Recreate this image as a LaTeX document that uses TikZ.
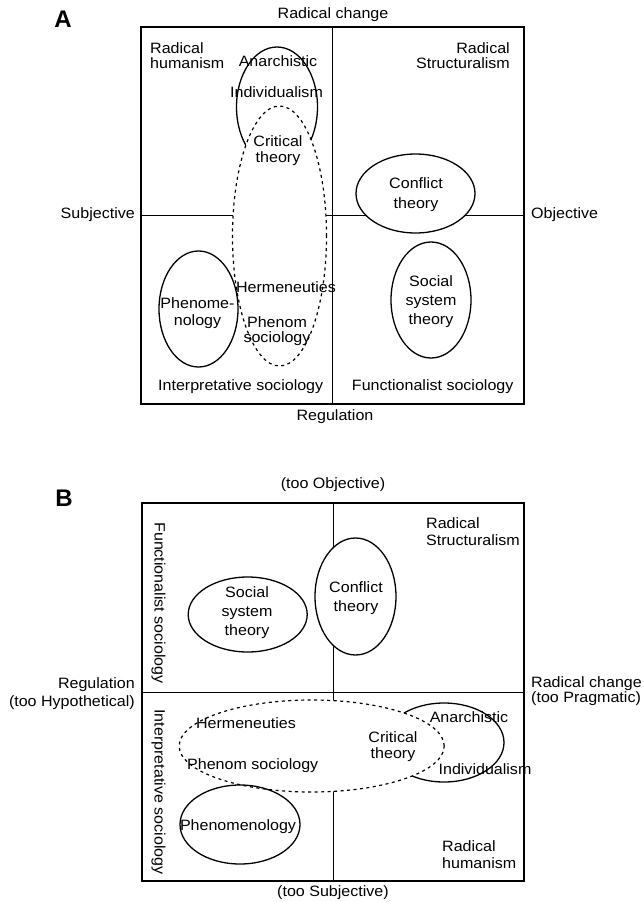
\documentclass[tikz,border=0pt]{standalone}
\usepackage{fontspec}
\setmainfont[FakeStretch=1.07]{Liberation Sans}
\newfontfamily\panelfont{Liberation Sans}
\usetikzlibrary{shapes.geometric}
\newcommand{\fsz}[1]{\fontsize{15}{#1}\selectfont}
\begin{document}
\begin{tikzpicture}[x=1pt,y=-1pt,
  frame/.style={draw, line width=1.3pt, inner sep=0pt},
  axis/.style={line width=0.7pt},
  oval/.style={ellipse, draw, line width=1.3pt, fill=white, inner sep=0pt},
  dashoval/.style={oval, line width=1.2pt, dash pattern=on 3pt off 3.5pt},
  lbl/.style={inner sep=0pt, align=center, font=\fsz{16}},
  panel/.style={inner sep=0pt, font=\panelfont\bfseries\fontsize{24}{24}\selectfont}]
\useasboundingbox (0,0) rectangle (643,902);

% ---------------- Panel A ----------------
\node[frame, minimum width=383, minimum height=377] (boxA) at (332.5,215.5) {};
\draw[axis] (boxA.north) -- (boxA.south);
\draw[axis] (boxA.west) -- (boxA.east);
\node[oval, minimum width=81, minimum height=120] (anaA) at (277,107) {};
\node[dashoval, minimum width=94, minimum height=260] (critA) at (279.5,236) {};
\node[oval, fill=none, minimum width=79, minimum height=116] (phenA) at (198.5,309) {};
\node[oval, minimum width=119, minimum height=79] (confA) at (415.5,193.5) {};
\node[oval, minimum width=80, minimum height=116] (socA) at (431,300) {};

\node[panel] (labA) at (63,19) {A};
\node[lbl] (tRCa) at (333,15) {Radical change};
\node[lbl] (tRega) at (335,417) {Regulation};
\node[lbl, anchor=east] (tSubja) at (135,215) {Subjective};
\node[lbl, anchor=west] (tObja) at (531,215) {Objective};
\node[lbl, align=left, anchor=west, font=\fsz{15}] (tRHa) at (150,55.5) {Radical\\humanism};
\node[lbl, align=right, anchor=east, font=\fsz{15}] (tRSa) at (510,55.5) {Radical\\Structuralism};
\node[lbl] (tAnaa) at (278,61) {Anarchistic};
\node[lbl] (tInda) at (276.5,92) {Individualism};
\node[lbl] (tCrita) at (278,151) {Critical\\theory};
\node[lbl] (tHera) at (286,287) {Hermeneuties};
\node[lbl, font=\fsz{15}] (tPSa) at (277,331) {Phenom\\sociology};
\node[lbl, font=\fsz{17}] (tPhena) at (197.5,313) {Phenome-\\nology};
\node[lbl, font=\fsz{20}] (tConfa) at (416,195) {Conflict\\theory};
\node[lbl, font=\fsz{19}] (tSoca) at (431,302) {Social\\system\\theory};
\node[lbl] (tISa) at (240.7,387) {Interpretative sociology};
\node[lbl] (tFSa) at (432.7,387) {Functionalist sociology};

% ---------------- Panel B ----------------
\node[frame, minimum width=382, minimum height=378] (boxB) at (333,692) {};
\draw[axis] (boxB.north) -- (boxB.south);
\draw[axis] (boxB.west) -- (boxB.east);
\node[oval, minimum width=120, minimum height=79] (anaB) at (444,742.5) {};
\node[dashoval, minimum width=265, minimum height=92] (critB) at (311.7,746) {};
\node[oval, minimum width=81, minimum height=117] (confB) at (355.5,596.5) {};
\node[oval, minimum width=119, minimum height=75] (socB) at (247.7,614.5) {};
\node[oval, fill=none, minimum width=120, minimum height=79] (phenB) at (240,824.5) {};

\node[panel] (labB) at (64,498.5) {B};
\node[lbl] (tTOb) at (333,485) {(too Objective)};
\node[lbl] (tTSb) at (333,893) {(too Subjective)};
\node[lbl, align=right, anchor=east, font=\fsz{18}] (tRegb) at (135,694) {Regulation\\(too Hypothetical)};
\node[lbl, align=left, anchor=west, font=\fsz{15}] (tRCb) at (531,691.5) {Radical change\\(too Pragmatic)};
\node[lbl, rotate=-90] (tFSb) at (158.4,603) {Functionalist sociology};
\node[lbl, rotate=-90] (tISb) at (158.4,792) {Interpretative sociology};
\node[lbl, align=left, anchor=west, font=\fsz{17}] (tRSb) at (426,531.5) {Radical\\Structuralism};
\node[lbl, font=\fsz{19}] (tConfb) at (356,598) {Conflict\\theory};
\node[lbl, font=\fsz{19}] (tSocb) at (247,613) {Social\\system\\theory};
\node[lbl] (tAnab) at (469,717) {Anarchistic};
\node[lbl] (tIndb) at (485,769) {Individualism};
\node[lbl] (tCritb) at (393,747) {Critical\\theory};
\node[lbl] (tHerb) at (246,723) {Hermeneuties};
\node[lbl] (tPSb) at (252.7,766) {Phenom sociology};
\node[lbl] (tPhenb) at (238,827) {Phenomenology};
\node[lbl, align=left, anchor=west, font=\fsz{17}] (tRHb) at (442,854.5) {Radical\\humanism};
\end{tikzpicture}
\end{document}
